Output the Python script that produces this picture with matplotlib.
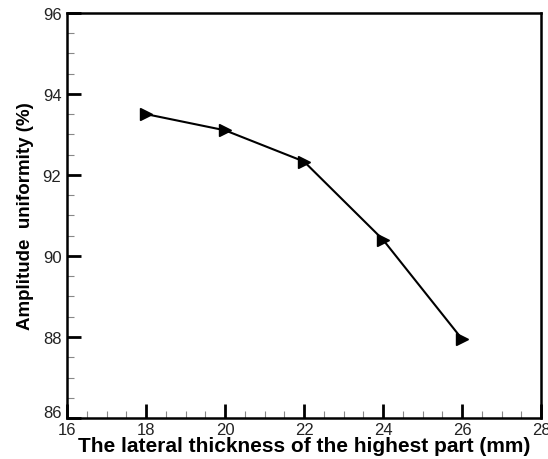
import matplotlib
matplotlib.use("Agg")
import matplotlib.pyplot as plt
from matplotlib.ticker import MultipleLocator
from matplotlib.transforms import ScaledTranslation

thickness = [18, 20, 22, 24, 26]
uniformity = [93.5, 93.1, 92.33, 90.4, 87.95]
x_ticks = [16, 18, 20, 22, 24, 26, 28]
y_ticks = [86, 88, 90, 92, 94, 96]

plt.rcParams['font.family'] = ['Liberation Sans', 'DejaVu Sans']

fig = plt.figure(figsize=(5.48, 4.6), dpi=100)
ax = fig.add_axes([0.1223, 0.089, 0.865, 0.881])

ax.plot(thickness, uniformity, color='black', lw=1.5, marker='>', markersize=8,
        markerfacecolor='black', markeredgecolor='black')

ax.set_xlim(16, 28)
ax.set_ylim(86, 96)
ax.set_xticks(x_ticks)
ax.set_yticks(y_ticks)
ax.xaxis.set_minor_locator(MultipleLocator(0.5))
ax.yaxis.set_minor_locator(MultipleLocator(0.5))
ax.tick_params(which='major', direction='in', length=10, width=2, labelsize=12,
               top=False, right=False, colors='black', labelcolor='#222222')
ax.tick_params(axis='x', which='major', pad=3)
ax.tick_params(axis='y', which='major', pad=4)
ax.tick_params(which='minor', direction='in', length=5, width=0.8,
               top=False, right=False, color='#888888')
for s in ax.spines.values():
    s.set_linewidth(1.8)

# nudge the lowest y label up, as in the reference
fig.canvas.draw()
ylabels = ax.get_yticklabels()
ylabels[0].set_transform(ylabels[0].get_transform() +
                         ScaledTranslation(0, 5 / 72, fig.dpi_scale_trans))

ax.set_xlabel('The lateral thickness of the highest part (mm)', fontsize=15,
              fontweight='bold', labelpad=-1)
ax.set_ylabel('Amplitude  uniformity (%)', fontsize=13.5, fontweight='bold', labelpad=6)

fig.savefig('out.png', dpi=100)
